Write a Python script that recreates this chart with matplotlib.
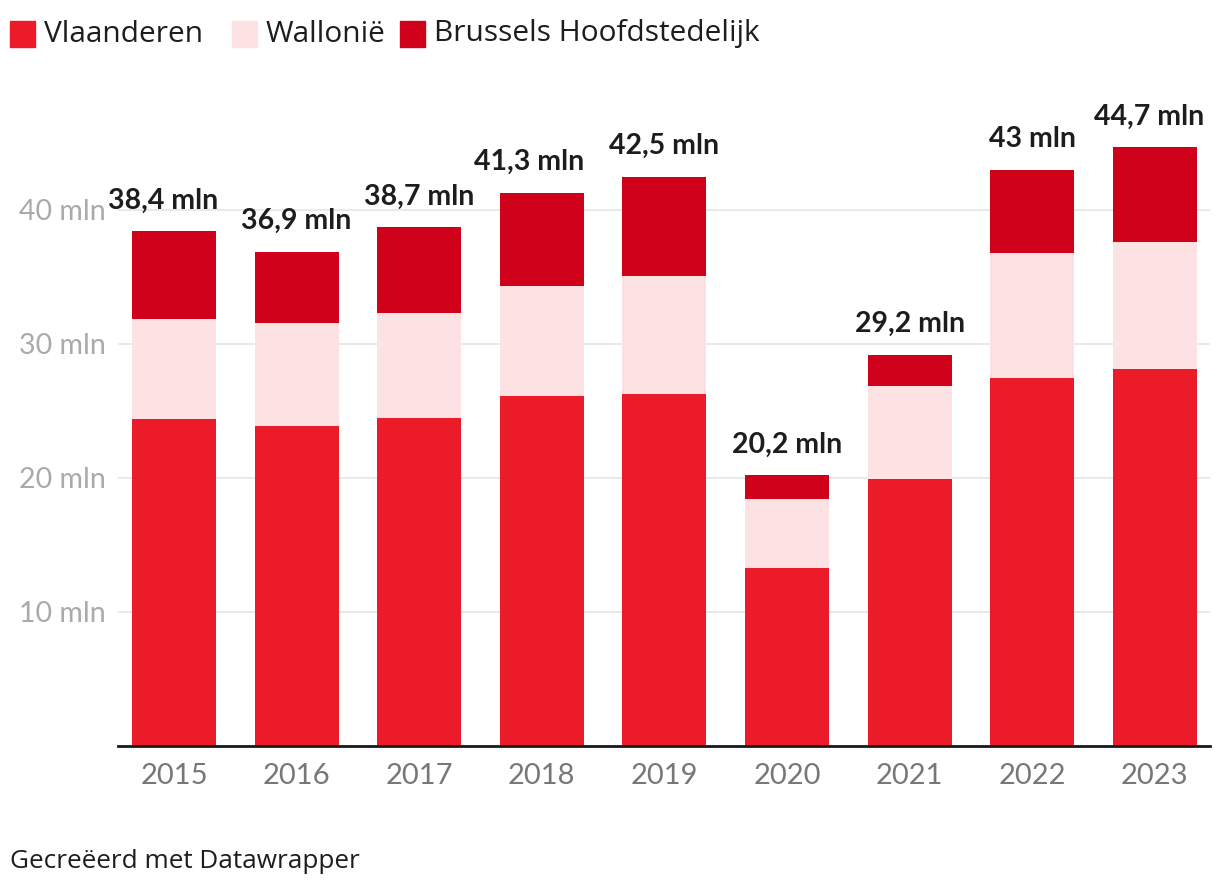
import numpy as np
import matplotlib.pyplot as plt
from matplotlib.patches import Rectangle

# data (mln)
jaren = ['2015', '2016', '2017', '2018', '2019', '2020', '2021', '2022', '2023']
vlaanderen = [24.4, 23.9, 24.5, 26.1, 26.3, 13.3, 19.9, 27.5, 28.1]
wallonie = [7.5, 7.7, 7.8, 8.2, 8.8, 5.1, 7.0, 9.3, 9.5]
brussel = [6.5, 5.3, 6.4, 7.0, 7.4, 1.8, 2.3, 6.2, 7.1]
totaal_labels = ['38,4 mln', '36,9 mln', '38,7 mln', '41,3 mln', '42,5 mln',
                 '20,2 mln', '29,2 mln', '43 mln', '44,7 mln']
y_ticks = [10, 20, 30, 40]
reeksen = ['Vlaanderen', 'Wallonië', 'Brussels Hoofdstedelijk']

kleuren = ['#ec1b29', '#fde2e4', '#d0021b']

plt.rcParams['font.family'] = ['Lato', 'DejaVu Sans']

fig = plt.figure(figsize=(12.2, 8.94), dpi=100)
ax = fig.add_axes([118 / 1220, 148 / 894, 1092 / 1220, 48 * 13.4 / 894])

x = np.arange(len(jaren))
breedte = 0.685
v = np.array(vlaanderen)
w = np.array(wallonie)
b = np.array(brussel)
ax.bar(x, v, breedte, color=kleuren[0], zorder=2)
ax.bar(x, w, breedte, bottom=v, color=kleuren[1], zorder=2)
ax.bar(x, b, breedte, bottom=v + w, color=kleuren[2], zorder=2)

# small horizontal nudges so labels don't collide (as in the original)
verschuiving = [-0.09, 0, 0, -0.1, 0, 0, 0, 0, -0.05]
totaal = v + w + b
for i, lab in enumerate(totaal_labels):
    ax.annotate(lab, (x[i] + verschuiving[i], totaal[i]), xytext=(0, 22),
                textcoords='offset points', ha='center', va='center',
                fontsize=20.5, fontweight='bold', color='#1d1d1d', zorder=3)

ax.set_xlim(-0.457, 8.45)
ax.set_ylim(0, 48)
ax.set_xticks(x)
ax.set_xticklabels(jaren, fontsize=21, color='#777777')
ax.set_yticks(y_ticks)
ax.set_yticklabels([f'{t} mln' for t in y_ticks], fontsize=20.5, color='#aaaaaa')
ax.tick_params(axis='x', length=0, pad=12)
ax.tick_params(axis='y', length=0, pad=9)
ax.grid(axis='y', color='#e5e5e5', linewidth=1.2, zorder=0)
for s in ['top', 'right', 'left']:
    ax.spines[s].set_visible(False)
ax.spines['bottom'].set_color('#1a1a1a')
ax.spines['bottom'].set_linewidth(2)
ax.spines['bottom'].set_zorder(4)

# legend
leg_x = [10, 232, 400]
for i, naam in enumerate(reeksen):
    fig.patches.append(Rectangle((leg_x[i] / 1220, 1 - 47 / 894), 25 / 1220, 26 / 894,
                                 transform=fig.transFigure, color=kleuren[i]))
    fig.text((leg_x[i] + 34) / 1220, 1 - 34 / 894, naam, fontsize=21.5,
             family=['Open Sans', 'DejaVu Sans'],
             color='#1d1d1d', va='center', ha='left')

fig.text(10 / 1220, 1 - 862 / 894, 'Gecreëerd met Datawrapper', fontsize=18.8,
         family=['Open Sans', 'DejaVu Sans'],
         color='#1d1d1d', va='center', ha='left')

fig.savefig('out.png', dpi=100, facecolor='white')
